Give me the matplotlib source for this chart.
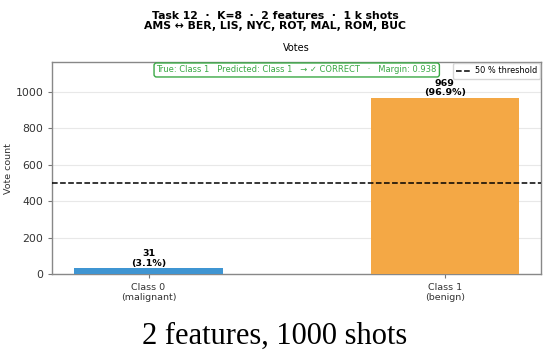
import matplotlib
matplotlib.use("Agg")
import matplotlib.pyplot as plt

# data
classes = ["Class 0\n(malignant)", "Class 1\n(benign)"]
votes = [31, 969]
shots = 1000
threshold = 500
bar_colors = ["#3f95d2", "#f4a845"]

fig = plt.figure(figsize=(5.5, 3.54), dpi=100)
ax = fig.add_axes([0.095, 0.226, 0.889, 0.598])

x = list(range(len(votes)))
ax.bar(x, votes, width=0.5, color=bar_colors, zorder=3)
ax.axhline(threshold, color="black", linestyle="--", linewidth=1.1, label="50 % threshold", zorder=4)

for xi, v in zip(x, votes):
    ax.text(xi, v + 2, f"{v}\n({v / shots * 100:.1f}%)", ha="center", va="bottom",
            fontsize=6.8, fontweight="bold", linespacing=1.1)

ax.set_ylim(0, max(votes) * 1.2)
ax.set_xticks(x)
ax.set_xticklabels(classes, fontsize=6.8, color="#333333")
ax.tick_params(axis="y", labelsize=7.8, colors="#333333")
ax.tick_params(axis="both", color="#777777", length=3)
ax.set_ylabel("Vote count", fontsize=6.8, color="#333333")
ax.yaxis.set_label_coords(-0.08, 0.5)
ax.set_title("Votes", fontsize=7, pad=8)
ax.grid(axis="y", color="#e8e8e8", linewidth=0.8, zorder=0)
for s in ax.spines.values():
    s.set_color("#888888")
    s.set_linewidth(1.0)

leg = ax.legend(loc="upper right", fontsize=5.9, frameon=True, borderpad=0.4,
                handlelength=1.7, handletextpad=0.6, borderaxespad=0.1)
leg.get_frame().set_edgecolor("#cccccc")

ax.text(0.5, 0.985, "True: Class 1   Predicted: Class 1   \u2192 \u2713 CORRECT   \u00b7   Margin: 0.938",
        transform=ax.transAxes, ha="center", va="top", fontsize=6, color="#3aa845",
        bbox=dict(boxstyle="round,pad=0.3", facecolor="white", edgecolor="#3aa845", linewidth=1.0))

fig.suptitle("Task 12  \u00b7  K=8  \u00b7  2 features  \u00b7  1 k shots\nAMS \u2194 BER, LIS, NYC, ROT, MAL, ROM, BUC",
             fontsize=7.8, fontweight="bold", y=0.97, linespacing=1.1)

fig.text(0.5, 0.05, "2 features, 1000 shots", ha="center", va="center",
         fontsize=22, family="Liberation Serif")

fig.savefig("out.png", dpi=100)
